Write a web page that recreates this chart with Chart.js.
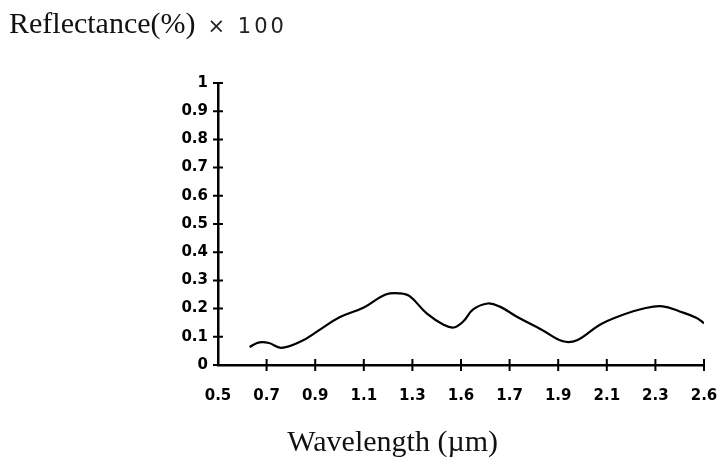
<!DOCTYPE html>
<html>
<head>
<meta charset="utf-8">
<script src="https://cdn.jsdelivr.net/npm/chart.js@4/dist/chart.umd.min.js"></script>
<style>
  html, body { margin: 0; padding: 0; background: #fff; }
  #wrap { position: relative; width: 721px; height: 475px; overflow: hidden; }
  #chart { position: absolute; left: 0; top: 0; }
  .ytitle { position: absolute; left: 9px; top: 8px; font-family: "Liberation Serif", serif; font-size: 30px; line-height: 30px; color: #111; white-space: nowrap; }
  .ytitle span { font-family: "DejaVu Sans", sans-serif; font-size: 21px; letter-spacing: 3px; color: #222; margin-left: 12px; }
  .xtitle { position: absolute; left: 150px; width: 348px; top: 426px; text-align: right; font-family: "Liberation Serif", serif; font-size: 30px; line-height: 30px; color: #111; white-space: nowrap; }
</style>
</head>
<body>
<div id="wrap">
  <canvas id="chart" width="721" height="475"></canvas>
  <div class="ytitle">Reflectance(%)<span>× 100</span></div>
  <div class="xtitle">Wavelength (µm)</div>
</div>
<script>
// Spectral reflectance curve (wavelength in µm, reflectance as fraction)
const wavelength = [0.63, 0.67, 0.71, 0.76, 0.84, 0.91, 1.00, 1.10, 1.19, 1.25, 1.29, 1.36, 1.43, 1.47, 1.51,
                    1.55, 1.61, 1.66, 1.73, 1.83, 1.92, 1.98, 2.07, 2.15, 2.26, 2.33, 2.40, 2.47, 2.50];
const reflectance = [0.064, 0.080, 0.078, 0.061, 0.083, 0.120, 0.169, 0.204, 0.250, 0.254, 0.243, 0.182, 0.142, 0.133, 0.155,
                     0.197, 0.218, 0.207, 0.171, 0.126, 0.084, 0.089, 0.142, 0.173, 0.202, 0.208, 0.190, 0.167, 0.148];

// Axis tick labels
const xTickLabels = ['0.5', '0.7', '0.9', '1.1', '1.3', '1.6', '1.7', '1.9', '2.1', '2.3', '2.6'];
const yTickLabels = ['0', '0.1', '0.2', '0.3', '0.4', '0.5', '0.6', '0.7', '0.8', '0.9', '1'];

const tickFont = { family: '"DejaVu Sans", sans-serif', size: 15, weight: 'bold' };

// Short tick marks that cross the axis line on both sides
const crossTicks = {
  id: 'crossTicks',
  afterDraw(chart) {
    const { ctx } = chart;
    const xs = chart.scales.x, ys = chart.scales.y;
    ctx.save();
    ctx.strokeStyle = '#000';
    ctx.lineWidth = 2;
    ctx.beginPath();
    ys.ticks.forEach((t, i) => {
      const y = ys.getPixelForTick(i);
      ctx.moveTo(xs.left - 5, y);
      ctx.lineTo(xs.left + 5, y);
    });
    xs.ticks.forEach((t, i) => {
      if (i === 0) return;
      const x = xs.getPixelForTick(i);
      ctx.moveTo(x, ys.bottom - 6);
      ctx.lineTo(x, ys.bottom + 6);
    });
    ctx.stroke();
    ctx.restore();
  }
};

new Chart(document.getElementById('chart'), {
  type: 'line',
  data: {
    datasets: [{
      data: wavelength.map((w, i) => ({ x: w, y: reflectance[i] })),
      borderColor: '#000',
      borderWidth: 2.2,
      pointRadius: 0,
      tension: 0.4,
      fill: false
    }]
  },
  options: {
    responsive: false,
    animation: false,
    layout: { padding: { left: 0, right: 17, top: 83, bottom: 0 } },
    plugins: { legend: { display: false }, tooltip: { enabled: false } },
    scales: {
      x: {
        type: 'linear',
        min: 0.5,
        max: 2.5,
        afterFit(scale) {
          scale.height = 110;
          scale.paddingLeft = 0;
          scale.paddingRight = 0;
        },
        afterBuildTicks(scale) {
          scale.ticks = xTickLabels.map((l, i) => ({ value: 0.5 + i * 0.2 }));
        },
        ticks: {
          color: '#000',
          font: tickFont,
          padding: 22,
          maxRotation: 0,
          autoSkip: false,
          callback: (v, i) => xTickLabels[i]
        },
        grid: { display: true, drawOnChartArea: false, drawTicks: false },
        border: { display: true, color: '#000', width: 2.5 }
      },
      y: {
        type: 'linear',
        min: 0,
        max: 1,
        afterFit(scale) {
          scale.width = 218;
          scale.paddingTop = 0;
          scale.paddingBottom = 0;
        },
        afterBuildTicks(scale) {
          scale.ticks = yTickLabels.map((l, i) => ({ value: i * 0.1 }));
        },
        ticks: {
          color: '#000',
          font: tickFont,
          padding: 10,
          autoSkip: false,
          callback: (v, i) => yTickLabels[i]
        },
        grid: { display: true, drawOnChartArea: false, drawTicks: false },
        border: { display: true, color: '#000', width: 2.5 }
      }
    }
  },
  plugins: [crossTicks]
});
</script>
</body>
</html>
